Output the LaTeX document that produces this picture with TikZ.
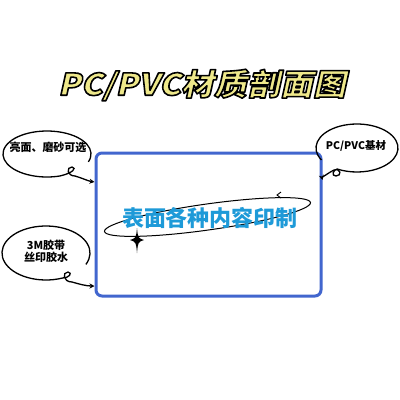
\documentclass[tikz,border=0pt]{standalone}
\usepackage{fontspec}
\newfontfamily\cjk{Noto Sans CJK SC}
\newfontfamily\titlefont[FakeSlant=0.22,FakeStretch=1.1]{Noto Sans CJK SC}
\usetikzlibrary{arrows.meta,calc}
\definecolor{boxblue}{RGB}{66,102,206}
\definecolor{txtblue}{RGB}{30,154,216}
\definecolor{titleyellow}{RGB}{238,232,138}
\newcommand{\outlined}[1]{\special{pdf:literal direct 0 0 0 RG 1.6 w 1 j 2 Tr}#1\special{pdf:literal direct 0 Tr}}
\tikzset{
  bubble/.style={draw=black, line width=1.3pt},
  bubtext/.style={font=\cjk\bfseries\fontsize{11}{13}\selectfont, align=center, inner sep=0pt},
  tail/.style={draw=black, line width=1.3pt, -{Stealth[length=5pt,width=5pt]}},
}
\begin{document}
\begin{tikzpicture}[x=1pt,y=-1pt]
\useasboundingbox (0,0) rectangle (400,400);
\fill[white] (0,0) rectangle (400,400);
% title with outline
\node[font=\titlefont\bfseries\fontsize{30}{32}\selectfont, text=titleyellow, inner sep=0pt] (title) at (202,85) {\outlined{PC/PVC材质剖面图}};
% main box
\node[draw=boxblue, line width=3pt, rounded corners=6pt, minimum width=225pt, minimum height=143pt, inner sep=0pt] (box) at (208.5,224.5) {};
% orbit ellipse
\coordinate (oc) at (207.5,217);
\draw[line width=1pt, rotate around={8:(oc)}] (oc) ellipse [x radius=104, y radius=13];
\draw[line width=0.9pt] (281,192) -- (277,195) -- (281,198);
% star
\fill (137,228) .. controls (138,238) .. (144,240) .. controls (138,242) .. (137,253) .. controls (136,242) .. (130,240) .. controls (136,238) .. cycle;
% center text
\node[font=\cjk\bfseries\fontsize{22}{24}\selectfont, text=txtblue, inner sep=0pt] (print) at (210,218) {表面各种内容印制};
% bubble 1 (top left)
\node[bubtext] (b1) at (48,147) {亮面、磨砂可选};
\coordinate (c1) at (47,154);
\draw[bubble] (c1) ++(20:44 and 23) arc[start angle=20, end angle=-287, x radius=44, y radius=23]
  .. controls (73,173) and (77,168) .. (72,167) .. controls (66,167) and (67,176) .. (75,176);
\draw[tail] (75,176) .. controls (82,178) and (88,181) .. (box.west |- 0,182);
% bubble 2 (right)
\node[bubtext, font=\cjk\bfseries\fontsize{10.5}{12}\selectfont] (b2) at (356,146) {PC/PVC基材};
\coordinate (c2) at (357,148);
\draw[bubble] (c2) ++(150:41 and 24) arc[start angle=150, end angle=479, x radius=41, y radius=24]
  .. controls (333,170) and (331,176) .. (336,176) .. controls (342,176) and (341,168) .. (334,170);
\draw[tail] (334,170) .. controls (328,173) and (322,178) .. (box.east |- 0,180);
% bubble 3 (bottom left)
\node[bubtext] (b3) at (46,251) {3M胶带\\[-1pt]丝印胶水};
\coordinate (c3) at (46,253);
\draw[bubble] (c3) ++(25:44 and 27) arc[start angle=25, end angle=-292, x radius=44, y radius=27]
  .. controls (69,278) and (73,273) .. (68,272) .. controls (62,272) and (63,282) .. (72,282);
\draw[tail] (72,282) .. controls (79,284) and (86,286) .. (box.west |- 0,286);
\end{tikzpicture}
\end{document}
